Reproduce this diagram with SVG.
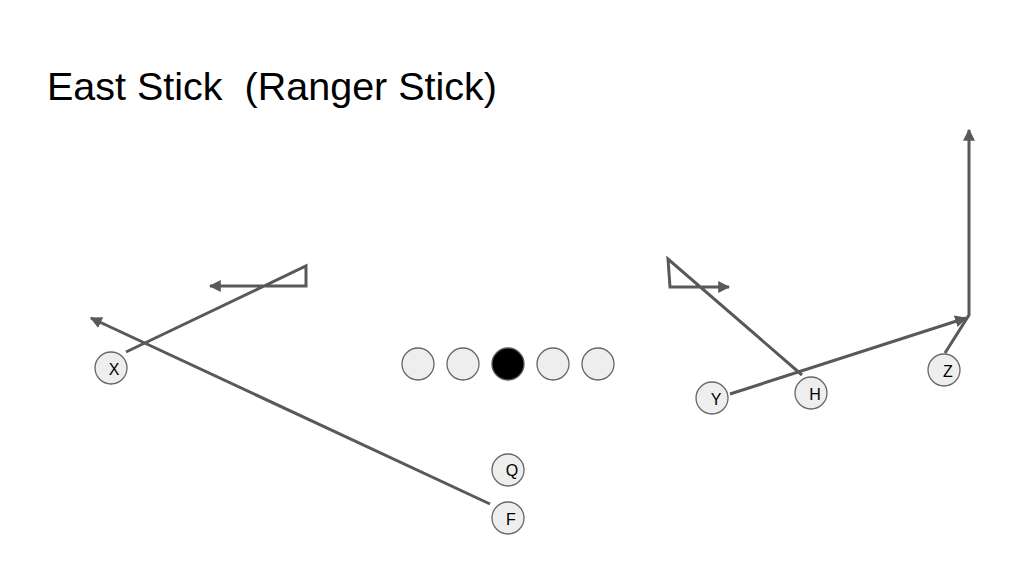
<svg xmlns="http://www.w3.org/2000/svg" width="1024" height="576" viewBox="0 0 1024 576">
<style>
.title{font-family:"Liberation Sans",Arial,sans-serif;font-size:39.5px;fill:#000;white-space:pre}
.p{fill:#eeeeee;stroke:#666;stroke-width:1.3}
.c{fill:#000;stroke:#555;stroke-width:1.3}
.lbl{font-family:"Liberation Sans",Arial,sans-serif;font-size:16px;fill:#000;text-anchor:middle;dominant-baseline:central}
.r{fill:none;stroke:#595959;stroke-width:3;stroke-linejoin:miter}
</style>
<defs>
<marker id="ah" viewBox="0 0 10 10" refX="9" refY="5" markerWidth="4" markerHeight="4" orient="auto" markerUnits="strokeWidth">
<path d="M0,0 L10,5 L0,10 Z" fill="#595959"/>
</marker>
</defs>
<rect width="1024" height="576" fill="#fff"/>
<text class="title" x="47" y="100" xml:space="preserve">East Stick  (Ranger Stick)</text>
<g id="connectors">
<polyline class="r" points="126,352 306,266 306,286 210,286" marker-end="url(#ah)"/>
<polyline class="r" points="490,504 91,318" marker-end="url(#ah)"/>
<polyline class="r" points="802,375 668,259 670,287 729,287" marker-end="url(#ah)"/>
<polyline class="r" points="730,394 966,318" marker-end="url(#ah)"/>
<polyline class="r" points="945,353 969,315 969,130" marker-end="url(#ah)"/>
</g>
<g id="ol1"><circle class="p" cx="418" cy="364" r="16"/></g>
<g id="ol2"><circle class="p" cx="463" cy="364" r="16"/></g>
<g id="center"><circle class="c" cx="508" cy="364" r="16"/></g>
<g id="ol4"><circle class="p" cx="553" cy="364" r="16"/></g>
<g id="ol5"><circle class="p" cx="598" cy="364" r="16"/></g>
<g id="X"><circle class="p" cx="111" cy="368" r="16"/><text class="lbl" x="114" y="369">X</text></g>
<g id="Q"><circle class="p" cx="508" cy="470" r="16"/><text class="lbl" x="512" y="470">Q</text></g>
<g id="F"><circle class="p" cx="508" cy="518" r="16"/><text class="lbl" x="511" y="519">F</text></g>
<g id="Y"><circle class="p" cx="712" cy="398" r="16"/><text class="lbl" x="716" y="399">Y</text></g>
<g id="H"><circle class="p" cx="811" cy="393" r="16"/><text class="lbl" x="815" y="394">H</text></g>
<g id="Z"><circle class="p" cx="944" cy="370" r="16"/><text class="lbl" x="948" y="371">Z</text></g>
</svg>
